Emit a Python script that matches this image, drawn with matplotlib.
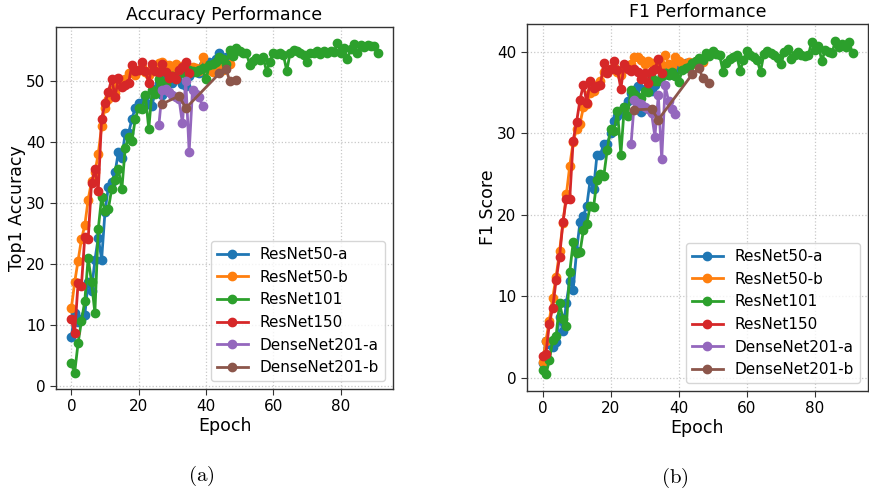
import matplotlib
matplotlib.use("Agg")
import matplotlib.pyplot as plt
import numpy as np

plt.rcParams['mathtext.fontset'] = 'cm'

names = ["ResNet50-a", "ResNet50-b", "ResNet101", "ResNet150", "DenseNet201-a", "DenseNet201-b"]
colors = ["#1f77b4", "#ff7f0e", "#2ca02c", "#d62728", "#9467bd", "#8c564b"]

# ---------------- Accuracy (Top1) ----------------
acc_resnet50a = [8.0, 11.9, 10.5, 11.0, 11.6, 17.0, 15.6, 20.6, 24.3, 20.7,
                 28.5, 32.6, 33.4, 35.0, 38.4, 37.3, 41.4, 41.4, 43.7, 45.6,
                 46.3, 46.4, 47.5, 46.2, 45.9, 48.6, 49.7, 47.6, 50.4, 50.5,
                 49.7, 51.0, 51.5, 49.5, 49.1, 50.8, 51.4, 51.8, 51.2, 52.6,
                 52.4, 53.0, 52.3, 53.5, 54.6, 52.6, 53.8]
acc_resnet50b = [12.7, 17.0, 20.5, 24.0, 26.3, 30.5, 33.5, 35.0, 38.0, 42.5,
                 45.6, 47.0, 48.5, 48.0, 49.5, 50.1, 50.3, 51.2, 51.5, 51.0,
                 51.8, 52.2, 51.4, 51.0, 52.0, 51.6, 52.9, 53.1, 52.5, 52.6,
                 52.0, 52.7, 51.8, 52.4, 52.0, 51.5, 52.3, 52.0, 51.6, 53.9,
                 52.2, 51.8, 51.5, 52.3, 52.0, 51.8, 52.5, 52.8]
acc_resnet101 = [3.8, 2.2, 7.0, 10.6, 13.9, 21.0, 17.0, 12.0, 25.7, 30.9,
                 28.6, 29.0, 32.3, 33.8, 35.5, 32.2, 38.9, 40.8, 40.2, 43.7,
                 45.6, 45.4, 47.7, 42.1, 48.4, 47.8, 50.2, 49.6, 49.5, 50.5,
                 50.8, 50.2, 51.2, 51.6, 51.0, 51.8, 51.6, 51.5, 51.8, 52.0,
                 50.2, 52.6, 52.7, 53.0, 53.9, 53.6, 52.8, 55.0, 54.1, 55.4,
                 54.9, 54.6, 54.6, 52.6, 53.2, 53.7, 53.4, 53.8, 51.5, 53.1,
                 54.6, 54.4, 54.6, 54.2, 51.6, 54.6, 55.1, 54.9, 54.5, 54.2,
                 53.1, 54.6, 54.6, 54.8, 54.4, 54.8, 54.6, 54.8, 54.7, 56.1,
                 54.6, 55.3, 53.6, 55.2, 56.0, 54.6, 55.8, 55.5, 55.8, 55.7,
                 55.7, 54.5]
acc_resnet150 = [10.9, 8.7, 16.8, 16.4, 24.4, 24.0, 33.2, 35.5, 32.0, 43.8,
                 46.3, 48.2, 50.3, 47.4, 50.4, 48.9, 49.3, 49.6, 52.6, 51.6,
                 51.7, 53.0, 51.6, 49.6, 52.8, 51.6, 51.4, 52.8, 51.5, 50.4,
                 50.7, 50.2, 51.8, 52.3, 53.1, 51.3]
acc_densenet201a = [42.7, 48.4, 48.6, 48.2, 47.6, 47.3, 47.0, 43.0, 50.0, 38.3,
                    48.5, 47.8, 47.3, 45.8]
acc_densenet201b = [46.2, 47.5, 45.5, 51.2, 51.9, 50.0, 50.1]

# ---------------- F1 score ----------------
f1_resnet50a = [1.8, 4.5, 4.1, 3.7, 4.4, 7.4, 5.7, 9.2, 11.9, 10.8,
                15.5, 19.1, 19.9, 21.1, 24.3, 23.2, 27.4, 27.4, 28.7, 28.7,
                30.0, 31.5, 32.1, 32.5, 33.2, 34.0, 35.0, 35.3, 35.8, 32.6,
                35.5, 35.8, 35.2, 36.0, 36.5, 37.0, 37.6, 37.2, 38.3, 37.8,
                38.3, 38.0, 38.6, 38.2, 38.6, 38.5, 38.8]
f1_resnet50b = [1.9, 4.5, 7.0, 9.8, 12.4, 15.5, 19.0, 22.5, 26.0, 29.0,
                30.5, 31.2, 33.2, 33.6, 35.0, 35.2, 36.0, 36.5, 37.5, 37.8,
                37.9, 38.2, 37.6, 37.2, 38.0, 38.2, 38.5, 39.4, 39.4, 39.0,
                38.5, 38.9, 38.7, 38.2, 38.6, 38.4, 39.7, 38.5, 38.3, 39.4,
                38.9, 38.6, 38.5, 38.8, 38.5, 38.9, 38.4, 38.8]
f1_resnet101 = [0.9, 0.4, 2.1, 4.6, 5.1, 9.2, 7.2, 6.3, 13.0, 16.6,
                15.3, 15.4, 18.1, 18.9, 21.1, 21.0, 24.3, 25.0, 24.8, 28.0,
                30.6, 30.3, 32.8, 27.4, 33.2, 32.2, 35.4, 34.9, 34.5, 34.4,
                35.2, 35.1, 36.8, 36.5, 36.5, 37.0, 37.4, 37.2, 37.6, 37.0,
                36.3, 37.8, 38.0, 38.2, 38.6, 38.9, 39.3, 39.0, 39.9, 39.5,
                40.1, 39.8, 39.6, 37.6, 38.6, 39.2, 39.4, 39.6, 37.7, 39.0,
                40.1, 39.7, 39.4, 39.0, 37.6, 39.8, 40.1, 39.9, 39.7, 39.3,
                38.5, 40.0, 40.4, 39.2, 39.7, 40.0, 39.6, 39.5, 39.6, 41.2,
                40.2, 40.8, 38.9, 40.3, 40.0, 39.9, 41.4, 40.6, 41.0, 40.6,
                41.2, 39.9]
f1_resnet150 = [2.7, 2.9, 6.6, 8.6, 12.0, 14.8, 19.1, 22.0, 22.0, 29.1,
                31.4, 34.1, 36.0, 33.8, 36.5, 35.6, 35.8, 36.0, 38.6, 37.4,
                37.9, 38.9, 37.8, 35.5, 38.5, 37.9, 37.7, 37.9, 37.5, 36.7,
                37.4, 36.2, 37.7, 37.9, 39.2, 37.4]
f1_densenet201a = [28.7, 34.1, 33.8, 33.6, 33.3, 33.0, 32.5, 29.6, 34.7, 26.8,
                   35.9, 34.0, 33.0, 32.4]
f1_densenet201b = [32.9, 33.0, 31.7, 37.3, 38.0, 36.8, 36.2]

# epochs
densenet_a_epochs = list(range(26, 40))
densenet_b_epochs = [27, 32, 34, 44, 46, 47, 49]

acc_series = [acc_resnet50a, acc_resnet50b, acc_resnet101, acc_resnet150,
              acc_densenet201a, acc_densenet201b]
f1_series = [f1_resnet50a, f1_resnet50b, f1_resnet101, f1_resnet150,
             f1_densenet201a, f1_densenet201b]


def epochs_for(i, vals):
    if i == 4:
        return densenet_a_epochs
    if i == 5:
        return densenet_b_epochs
    return list(range(len(vals)))


W, H = 869, 492
fig = plt.figure(figsize=(W / 100, H / 100), dpi=100)

ax1 = fig.add_axes([56 / W, (H - 389) / H, 337 / W, 362 / H])
ax2 = fig.add_axes([527 / W, (H - 391) / H, 341 / W, 367 / H])


def style(ax, title, ylabel, yticks):
    ax.set_title(title, fontsize=12.5, pad=5)
    ax.set_xlabel("Epoch", fontsize=12.5, labelpad=2)
    ax.set_ylabel(ylabel, fontsize=12.5, labelpad=0)
    ax.set_xticks([0, 20, 40, 60, 80])
    ax.set_yticks(yticks)
    ax.tick_params(labelsize=11, length=4, color="#333333")
    ax.grid(True, linestyle=":", color="#c8c8c8", linewidth=0.9)
    ax.set_axisbelow(True)
    for s in ax.spines.values():
        s.set_color("#333333")
        s.set_linewidth(1.0)
    ax.legend(loc="lower right", fontsize=11, framealpha=0.8, handlelength=2.0)


for i, vals in enumerate(acc_series):
    ax1.plot(epochs_for(i, vals), vals, "o-", color=colors[i], label=names[i],
             linewidth=2, markersize=6)
for i, vals in enumerate(f1_series):
    ax2.plot(epochs_for(i, vals), vals, "o-", color=colors[i], label=names[i],
             linewidth=2, markersize=6)

style(ax1, "Accuracy Performance", "Top1 Accuracy", [0, 10, 20, 30, 40, 50])
style(ax2, "F1 Performance", "F1 Score", [0, 10, 20, 30, 40])

fig.text(201 / W, 1 - 476 / H, r"$\mathrm{(a)}$", ha="center", va="center", fontsize=15)
fig.text(675 / W, 1 - 478 / H, r"$\mathrm{(b)}$", ha="center", va="center", fontsize=15)

fig.savefig("out.png", dpi=100)
